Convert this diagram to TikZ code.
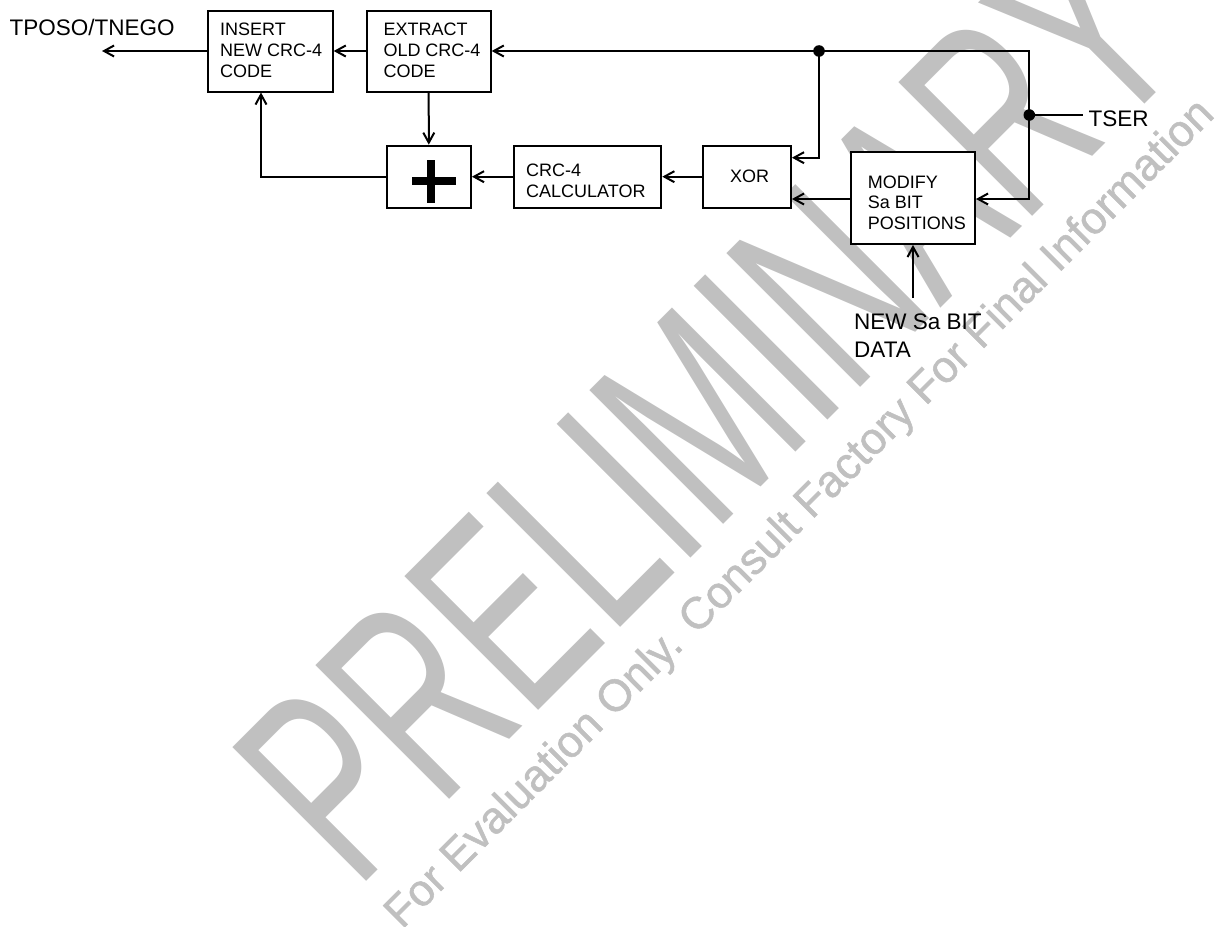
\documentclass[tikz,border=0pt]{standalone}
\usepackage{graphicx}
\usepackage{fontspec}
\setmainfont{Liberation Sans}
\newfontfamily\wmfont{Liberation Sans}[FakeBold=1.2]
\usetikzlibrary{arrows.meta}
\definecolor{wm}{RGB}{192,192,192}
\begin{document}
\begin{tikzpicture}[x=1pt,y=-1pt,
  blk/.style={draw, line width=2pt, fill=white, inner sep=0pt},
  btxt/.style={inner sep=0pt, align=left, font=\fontsize{18}{20.8}\selectfont, anchor=west},
  lab/.style={inner sep=0pt, font=\fontsize{22.5}{27.3}\selectfont},
  arr/.style={line width=2pt, -{Straight Barb[length=10pt,width=11pt,line width=2pt]}},
  wire/.style={line width=2pt},
  wmark/.style={text=wm, rotate=45, anchor=base west, inner sep=0pt}]
\useasboundingbox (0,0) rectangle (1223,926);
% watermark
\node[wmark] (wmA) at (356.7,891.7) {\scalebox{0.635}[1]{\fontsize{275}{275}\selectfont PRELIMINARY}};
\node[wmark, font=\wmfont\fontsize{44.5}{44.5}\selectfont] (wmB) at (402,930) {For Evaluation Only. Consult Factory For Final Information};
% boxes
\node[blk, minimum width=124.4pt, minimum height=81pt] (ins) at (270.5,51) {};
\node[blk, minimum width=124pt, minimum height=81pt] (ext) at (428.7,51) {};
\node[blk, minimum width=84.3pt, minimum height=62pt] (pl) at (428.8,176.7) {};
\node[blk, minimum width=147pt, minimum height=62pt] (crc) at (587.8,176.7) {};
\node[blk, minimum width=88.3pt, minimum height=62pt] (xor) at (746.8,176.7) {};
\node[blk, minimum width=124pt, minimum height=92.3pt] (mod) at (913,197.8) {};
% box texts
\node[btxt] (insT) at (220,50.5) {INSERT\\NEW CRC-4\\CODE};
\node[btxt] (extT) at (383.3,50.5) {EXTRACT\\OLD CRC-4\\CODE};
\node[btxt] (crcT) at (526,181) {CRC-4\\CALCULATOR};
\node[btxt, anchor=center] (xorT) at (749.5,176) {XOR};
\node[btxt] (modT) at (867.7,202.7) {MODIFY\\Sa BIT\\POSITIONS};
% plus sign
\draw[line width=8.3pt] (412.3,180.8) -- (456,180.8);
\draw[line width=8.3pt] (430.8,160) -- (430.8,202.7);
% labels
\node[lab, anchor=base west] (tp) at (9.5,35) {TPOSO/TNEGO};
\node[lab, anchor=base west] (ts) at (1088.5,126) {TSER};
\node[lab, anchor=west, align=left] (nsb) at (854,335.6) {NEW Sa BIT\\DATA};
% coordinates
\coordinate (out) at (102,51);
\coordinate (tc) at (1029.3,51);
\coordinate (jt) at (1029.3,115);
\coordinate (bc) at (1029.3,199);
\coordinate (j1) at (819,51);
\coordinate (xa) at (819,157.7);
\coordinate (lp) at (261,176.7);
\coordinate (nb) at (913,298);
% connectors
\draw[arr] (ins.west) -- (out);
\draw[arr] (ext.west) -- (ins.east);
\draw[arr] (jt) -- (tc) -- (ext.east);
\draw[arr] (jt) -- (bc) -- (bc -| mod.east);
\draw[arr] (mod.west |- bc) -- (bc -| xor.east);
\draw[arr] (j1) -- (xa) -- (xa -| xor.east);
\draw[arr] (xor.west) -- (crc.east);
\draw[arr] (crc.west) -- (pl.east);
\draw[arr] (pl.west) -- (lp) -- (lp |- ins.south);
\draw[arr] (ext.south) -- (pl.north);
\draw[arr] (nb) -- (mod.south);
\draw[wire, shorten >=5.5pt] (jt) -- (jt -| ts.west);
\fill (j1) circle[radius=5.8pt];
\fill (jt) circle[radius=5.8pt];
\end{tikzpicture}
\end{document}
